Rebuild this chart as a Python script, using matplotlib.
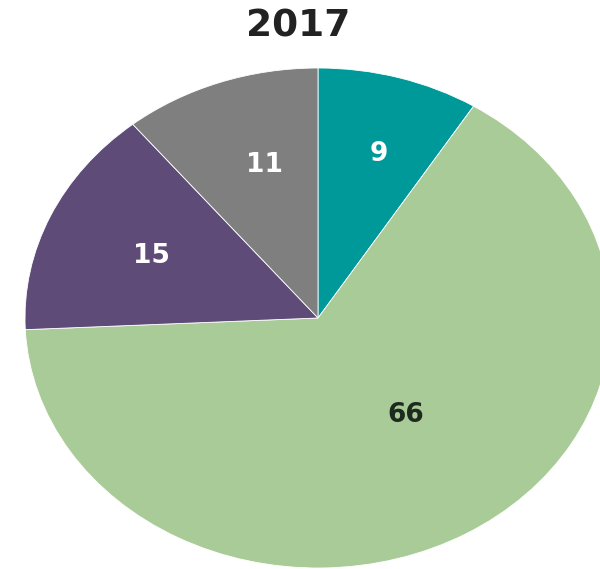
import numpy as np
import matplotlib.pyplot as plt

plt.rcParams['font.family'] = ['DejaVu Sans']

title = '2017'
values = [9, 66, 15, 11]
colors = ['#009999', '#A9CB97', '#5F4B78', '#7F7F7F']
text_colors = ['white', '#1e2a1e', 'white', 'white']
# label distance from centre (fraction of radius) and small angle nudge
label_r = [0.69, 0.49, 0.62, 0.64]
label_shift = [-1.5, 7.4, 0.6, -2.9]

fig = plt.figure(figsize=(6, 5.69), dpi=100)
ax = fig.add_axes([0, 0, 1, 1])

wedges, _ = ax.pie(values, colors=colors, startangle=90, counterclock=False,
                   wedgeprops=dict(edgecolor='white', linewidth=0.6))

for w, v, tc, r, s in zip(wedges, values, text_colors, label_r, label_shift):
    mid = np.deg2rad((w.theta1 + w.theta2) / 2 + s)
    ax.text(r * np.cos(mid), r * np.sin(mid), str(v), ha='center', va='center',
            color=tc, fontsize=19, fontweight='bold')

# stretched ellipse, cropped at the right
ax.set_aspect('auto')
ax.set_xlim(-318 / 293, 282 / 293)
ax.set_ylim(-251 / 250, 318 / 250)
ax.axis('off')

fig.text(0.497, 0.954, title, ha='center', va='center', fontsize=27,
         fontweight='bold', color='#222222')

fig.savefig('out.png', dpi=100, facecolor='white')
